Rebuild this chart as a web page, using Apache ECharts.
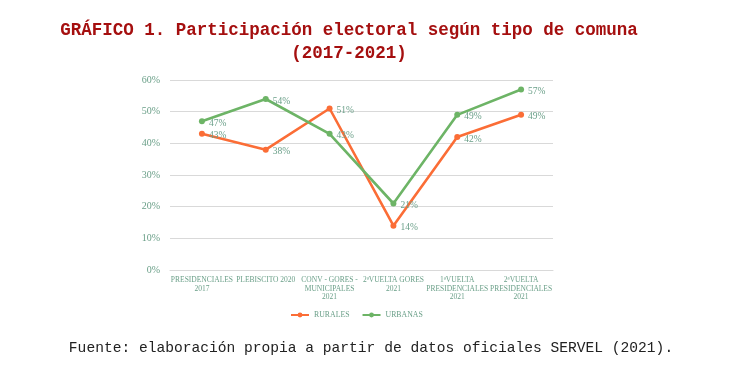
<!DOCTYPE html>
<html><head><meta charset="utf-8">
<script src="https://cdn.jsdelivr.net/npm/echarts@6/dist/echarts.min.js"></script>
<style>html,body{margin:0;padding:0;background:#fff}#c{width:738px;height:384px}</style>
</head><body><div id="c"></div>
<script>
const categories = ["PRESIDENCIALES\n2017", "PLEBISCITO 2020", "CONV - GORES -\nMUNICIPALES\n2021", "2ªVUELTA GORES\n2021", "1ªVUELTA\nPRESIDENCIALES\n2021", "2ªVUELTA\nPRESIDENCIALES\n2021"];
const rurales = [43, 38, 51, 14, 42, 49];
const urbanas = [47, 54, 43, 21, 49, 57];
const titleLine1 = "GRÁFICO 1. Participación electoral según tipo de comuna";
const titleLine2 = "(2017-2021)";
const sourceText = "Fuente: elaboración propia a partir de datos oficiales SERVEL (2021).";

const teal = '#6a9f88';
const serif = '"Liberation Serif", "DejaVu Serif", serif';
const chart = echarts.init(document.getElementById('c'));
const lbl = {show: true, position: 'right', distance: 4, offset: [0, 2], color: teal, fontFamily: serif, fontSize: 9.5, formatter: p => p.value + '%'};
chart.setOption({
  animation: false,
  title: [
    {text: titleLine1 + '\n' + titleLine2, left: 344, top: 14, textAlign: 'center',
     textStyle: {fontFamily: '"Liberation Mono", monospace', fontWeight: 'bold', fontSize: 17.5, color: '#a50f0f', lineHeight: 23, align: 'center'}},
    {text: sourceText, left: 366, top: 336, textAlign: 'center',
     textStyle: {fontFamily: '"Liberation Mono", monospace', fontWeight: 'normal', fontSize: 14.6, color: '#222'}}
  ],
  grid: {left: 170, right: 185, top: 80, bottom: 114},
  legend: {bottom: 60, left: 285, itemWidth: 18, itemHeight: 6, itemGap: 12,
    textStyle: {fontFamily: serif, fontSize: 7.8, color: teal},
    data: ['RURALES', 'URBANAS']},
  xAxis: {type: 'category', data: categories, boundaryGap: true,
    axisLine: {show: true, lineStyle: {color: '#d9d9d9'}}, axisTick: {show: false},
    axisLabel: {interval: 0, color: teal, fontFamily: serif, fontSize: 7.5, lineHeight: 8.5, margin: 6}},
  yAxis: {type: 'value', min: 0, max: 60, interval: 10,
    axisLine: {show: false}, axisTick: {show: false},
    splitLine: {lineStyle: {color: '#d9d9d9', width: 1}},
    axisLabel: {formatter: '{value}%', color: teal, fontFamily: serif, fontSize: 10, margin: 10}},
  series: [
    {name: 'RURALES', type: 'line', data: rurales, color: '#fb6d36', symbol: 'circle', symbolSize: 6,
     lineStyle: {width: 2.6}, label: lbl, z: 2},
    {name: 'URBANAS', type: 'line', data: urbanas, color: '#6db466', symbol: 'circle', symbolSize: 6,
     lineStyle: {width: 2.6}, label: lbl, z: 3}
  ]
});
</script></body></html>
